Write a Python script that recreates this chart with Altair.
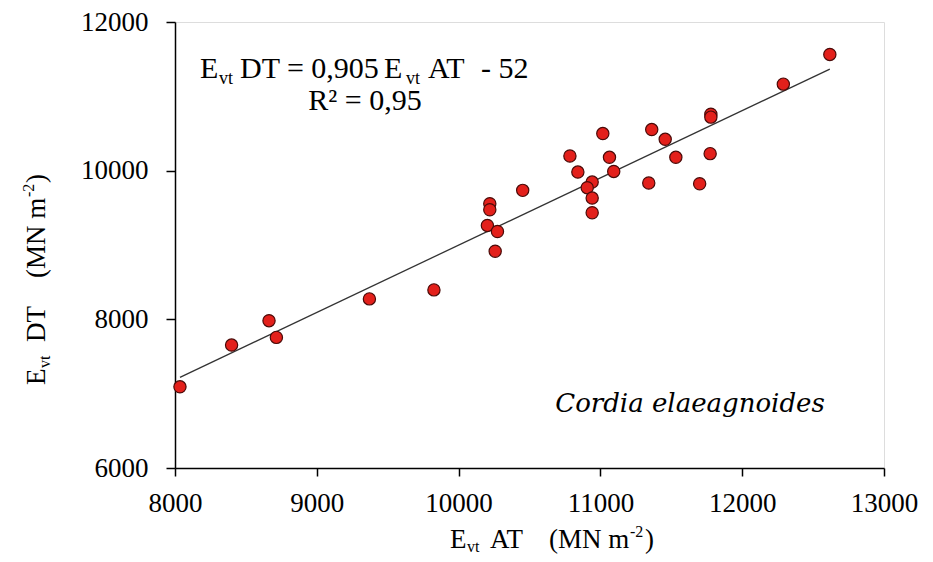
import altair as alt
import pandas as pd

# ---- data ----
evt_at = [8035, 8399, 8663, 8715, 9371, 9826, 10220, 10220, 10203, 10274, 10258,
          10452, 10785, 10841, 11017, 11064, 11094, 10942, 10907, 10942, 10942,
          11362, 11457, 11532, 11341, 11700, 11774, 11779, 11779, 12290, 12618]
evt_dt = [7092, 7654, 7982, 7757, 8275, 8396, 9555, 9474, 9263, 9182, 8916,
          9735, 10197, 9981, 10499, 10180, 9990, 9847, 9771, 9631, 9434,
          10553, 10422, 10180, 9834, 9824, 10229, 10760, 10720, 11164, 11564]

# regression line end points (Evt DT = 0,905 Evt AT - 52)
line_at = [8035, 12618]
line_dt = [7220, 11367]

x_ticks = [8000, 9000, 10000, 11000, 12000, 13000]
y_ticks = [6000, 8000, 10000, 12000]

SERIF = "Liberation Serif"
W, H = 709, 446
LEFT, TOP = 175, 22   # page position of plot origin

pts = pd.DataFrame({"at": evt_at, "dt": evt_dt})
reg = pd.DataFrame({"at": line_at, "dt": line_dt})

xs = alt.Scale(domain=[8000, 13000], nice=False, zero=False)
ys = alt.Scale(domain=[6000, 12000], nice=False, zero=False)

xaxis = alt.Axis(values=x_ticks, format="d", title=None, grid=False,
                 labelFont=SERIF, labelFontSize=27, labelColor="black",
                 labelFlush=False, labelOverlap=False,
                 tickSize=8, tickColor="black", tickWidth=1.5,
                 domainColor="black", domainWidth=1.5, labelPadding=14)
yaxis = alt.Axis(values=y_ticks, format="d", title=None, grid=False,
                 labelFont=SERIF, labelFontSize=27, labelColor="black",
                 labelFlush=False, labelOverlap=False,
                 tickSize=9, tickColor="black", tickWidth=1.5,
                 domainColor="black", domainWidth=1.5, labelPadding=18)

line = alt.Chart(reg).mark_line(color="#333333", strokeWidth=1.3).encode(
    x=alt.X("at:Q", scale=xs, axis=xaxis),
    y=alt.Y("dt:Q", scale=ys, axis=yaxis),
)

points = alt.Chart(pts).mark_point(
    filled=True, shape="circle", size=150, fill="#e3201b",
    stroke="#4a0a08", strokeWidth=1.2, opacity=1
).encode(x=alt.X("at:Q", scale=xs), y=alt.Y("dt:Q", scale=ys))


def piece(txt, x, y, size, angle=0, italic=False, align="left", font=SERIF):
    kw = dict(font=font, fontSize=size, align=align, baseline="alphabetic",
              color="black", fontStyle="italic" if italic else "normal")
    if angle:
        kw["angle"] = angle
    return alt.Chart(pd.DataFrame({"t": [txt]})).mark_text(**kw).encode(
        x=alt.value(x - LEFT), y=alt.value(y - TOP), text="t:N")


texts = [
    # equation
    piece("E", 200, 78, 30),
    piece("vt", 219, 84, 18),
    piece("DT = 0,905", 240, 78, 30),
    piece("E", 384, 78, 30),
    piece("vt", 406, 84, 18),
    piece("AT", 428, 78, 30),
    piece("- 52", 481, 78, 30),
    piece("R² = 0,95", 365, 110, 30, align="center"),
    # species
    piece("Cordia elaeagnoides", 690, 412, 26, italic=True, align="center",
          font="DejaVu Serif"),
    # x title
    piece("E", 450, 548, 27),
    piece("vt", 467, 552, 16),
    piece("AT", 490, 548, 27),
    piece("(MN m", 549, 548, 27),
    piece("-2", 630, 537, 16),
    piece(")", 645, 548, 27),
    # y title (rotated)
    piece("E", 45, 385, 27, angle=270),
    piece("vt", 50, 368, 16, angle=270),
    piece("DT", 45, 342, 27, angle=270),
    piece("(MN m", 45, 278, 27, angle=270),
    piece("-2", 34, 197, 16, angle=270),
    piece(")", 45, 183, 27, angle=270),
]

chart = alt.layer(line, points, *texts).properties(
    width=W, height=H,
    autosize=alt.AutoSizeParams(type="none"),
    padding={"left": LEFT - 8, "top": TOP - 8, "right": 36, "bottom": 86},
).configure_view(stroke="black", strokeWidth=1.5).configure(background="white")

chart.save("out.html", embed_options={"renderer": "svg", "actions": False})
